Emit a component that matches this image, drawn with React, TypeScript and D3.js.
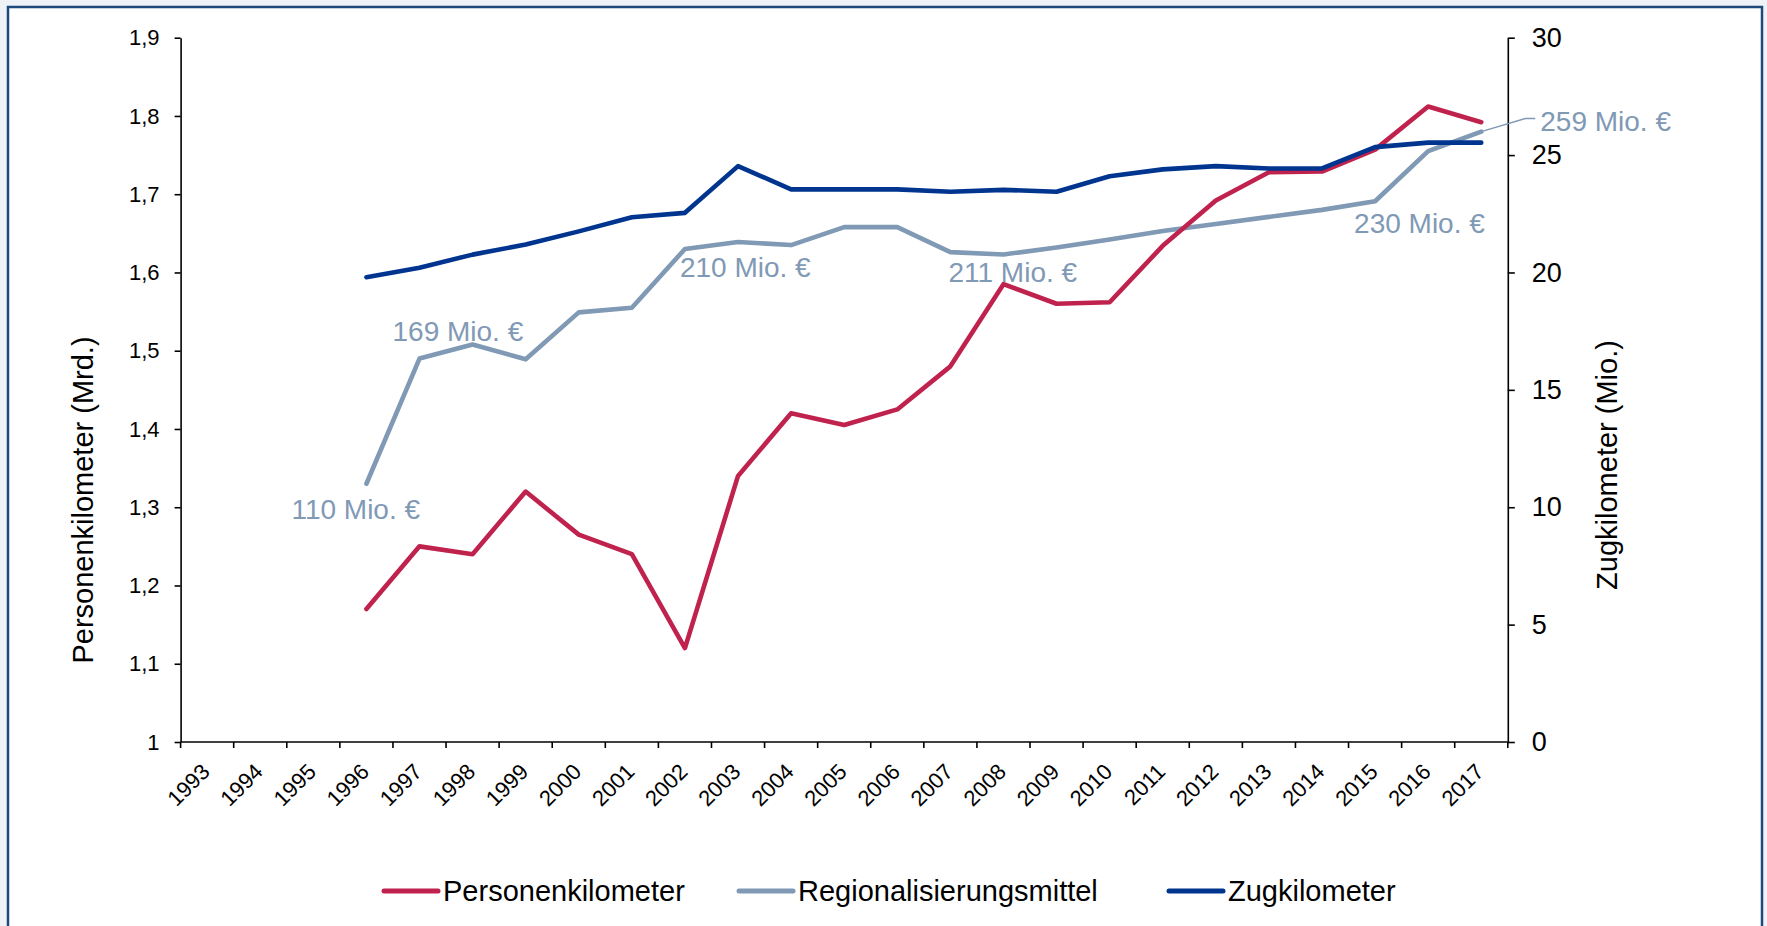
import { useEffect, useRef } from "react";
import * as d3 from "d3";

const width = 1767;
const height = 926;

const years = d3.range(1993, 2018).map(String);
const dataYears = d3.range(1996, 2018).map(String);

// Personenkilometer (Mrd.), left axis
const personenkm = [1.17, 1.25, 1.24, 1.32, 1.265, 1.24, 1.12, 1.34, 1.42, 1.405, 1.425,
  1.48, 1.585, 1.56, 1.562, 1.634, 1.692, 1.728, 1.729, 1.757, 1.812, 1.792];
// Regionalisierungsmittel, drawn against the left axis
const regio = [1.33, 1.49, 1.508, 1.489, 1.549, 1.555, 1.63, 1.639, 1.635, 1.658, 1.658,
  1.626, 1.623, 1.632, 1.642, 1.653, 1.662, 1.671, 1.68, 1.691, 1.755, 1.78];
// Zugkilometer (Mio.), right axis
const zugkm = [19.8, 20.2, 20.76, 21.19, 21.75, 22.35, 22.54, 24.53, 23.54, 23.54, 23.54,
  23.44, 23.52, 23.44, 24.1, 24.39, 24.53, 24.43, 24.43, 25.34, 25.53, 25.53];

const annoYears = ["1996", "1997", "2002", "2008", "2015", "2017"];
const annoTexts = ["110 Mio. €", "169 Mio. €", "210 Mio. €", "211 Mio. €", "230 Mio. €", "259 Mio. €"];

const seriesNames = ["Personenkilometer", "Regionalisierungsmittel", "Zugkilometer"];
const colors = ["#c0224e", "#8099b5", "#00358f"];

// label offsets relative to their point (layout only)
const annoOffsets = [[-75, 35], [-27, -18], [-5, 28], [-55, 28], [-21, 32], [59, -1]];

const font = "'Liberation Sans', Arial, sans-serif";

const App = () => {
  const ref = useRef<SVGSVGElement>(null);

  useEffect(() => {
    const svg = d3.select(ref.current);
    svg.selectAll("*").remove();

    svg.append("rect").attr("width", width).attr("height", height).attr("fill", "#eff2f7");
    svg.append("rect")
      .attr("x", 8).attr("y", 7).attr("width", 1754).attr("height", 960)
      .attr("fill", "#fff").attr("stroke", "#1f497d").attr("stroke-width", 2.5);

    const left = 180.6, right = 1507.8, top = 37.7, bottom = 742;
    const x = d3.scaleBand().domain(years).range([left, right]);
    const yL = d3.scaleLinear().domain([1, 1.9]).range([bottom, top]);
    const yR = d3.scaleLinear().domain([0, 30]).range([bottom, top]);
    const cx = (yr: string) => (x(yr) as number) + x.bandwidth() / 2;
    const comma = (d: d3.NumberValue) => String(+(+d).toFixed(1)).replace(".", ",");

    // left axis
    const gL = svg.append("g").attr("transform", `translate(${left},0)`)
      .call(d3.axisLeft(yL).tickValues(d3.range(10).map(i => 1 + i / 10)).tickFormat(comma)
        .tickSize(6).tickSizeOuter(0).tickPadding(15));
    gL.selectAll("text").attr("font-size", 22).attr("font-family", font).attr("fill", "#000");
    gL.selectAll("line,path").attr("stroke", "#000").attr("stroke-width", 1.6);

    // right axis
    const gR = svg.append("g").attr("transform", `translate(${right},0)`)
      .call(d3.axisRight(yR).tickValues(d3.range(0, 31, 5)).tickSize(7).tickSizeOuter(0).tickPadding(17));
    gR.selectAll("text").attr("font-size", 27).attr("font-family", font).attr("fill", "#000");
    gR.selectAll("line,path").attr("stroke", "#000").attr("stroke-width", 1.6);

    // x axis with ticks on band edges
    const gX = svg.append("g");
    gX.append("line").attr("x1", left).attr("x2", right).attr("y1", bottom).attr("y2", bottom)
      .attr("stroke", "#000").attr("stroke-width", 1.6);
    const edges = [...years.map(y => x(y) as number), right];
    gX.selectAll("line.tick").data(edges).join("line").attr("class", "tick")
      .attr("x1", d => d).attr("x2", d => d).attr("y1", bottom).attr("y2", bottom + 6)
      .attr("stroke", "#000").attr("stroke-width", 1.6);
    gX.selectAll("text").data(years).join("text")
      .attr("transform", d => `translate(${cx(d) + 4},${bottom + 31}) rotate(-45)`)
      .attr("text-anchor", "end").attr("font-size", 22).attr("font-family", font)
      .text(d => d);

    // axis titles
    svg.append("text").attr("transform", `translate(93,500) rotate(-90)`)
      .attr("text-anchor", "middle").attr("font-size", 29).attr("font-family", font)
      .text("Personenkilometer (Mrd.)");
    svg.append("text").attr("transform", `translate(1617,465) rotate(-90)`)
      .attr("text-anchor", "middle").attr("font-size", 29).attr("font-family", font)
      .text("Zugkilometer (Mio.)");

    // series
    const series = [
      { vals: personenkm, y: yL },
      { vals: regio, y: yL },
      { vals: zugkm, y: yR },
    ];
    const order = [1, 0, 2];
    order.forEach(i => {
      const s = series[i];
      const line = d3.line<number>().x((_, j) => cx(dataYears[j])).y(d => s.y(d));
      svg.append("path").attr("d", line(s.vals)).attr("fill", "none")
        .attr("stroke", colors[i]).attr("stroke-width", 4.6)
        .attr("stroke-linejoin", "round").attr("stroke-linecap", "round");
    });

    // annotations for Regionalisierungsmittel
    annoYears.forEach((yr, i) => {
      const px = cx(yr);
      const py = yL(regio[dataYears.indexOf(yr)]);
      const [dx, dy] = annoOffsets[i];
      svg.append("text").attr("x", px + dx).attr("y", py + dy)
        .attr("font-size", 28).attr("font-family", font).attr("fill", colors[1])
        .text(annoTexts[i]);
      if (i === annoYears.length - 1) {
        svg.append("path")
          .attr("d", `M${px},${py}L${px + 44},${py - 13}L${px + 54},${py - 13}`)
          .attr("fill", "none").attr("stroke", colors[1]).attr("stroke-width", 1.5);
      }
    });

    // legend
    const legendX = [384, 739, 1169];
    const legendY = 891;
    seriesNames.forEach((name, i) => {
      svg.append("line").attr("x1", legendX[i]).attr("x2", legendX[i] + 54)
        .attr("y1", legendY).attr("y2", legendY)
        .attr("stroke", colors[i]).attr("stroke-width", 5).attr("stroke-linecap", "round");
      svg.append("text").attr("x", legendX[i] + 59).attr("y", legendY + 10)
        .attr("font-size", 29).attr("font-family", font).text(name);
    });
  }, []);

  return (
    <svg ref={ref} width={width} height={height}
      style={{ position: "absolute", left: 0, top: 0, display: "block" }}></svg>
  );
};

export default App;
